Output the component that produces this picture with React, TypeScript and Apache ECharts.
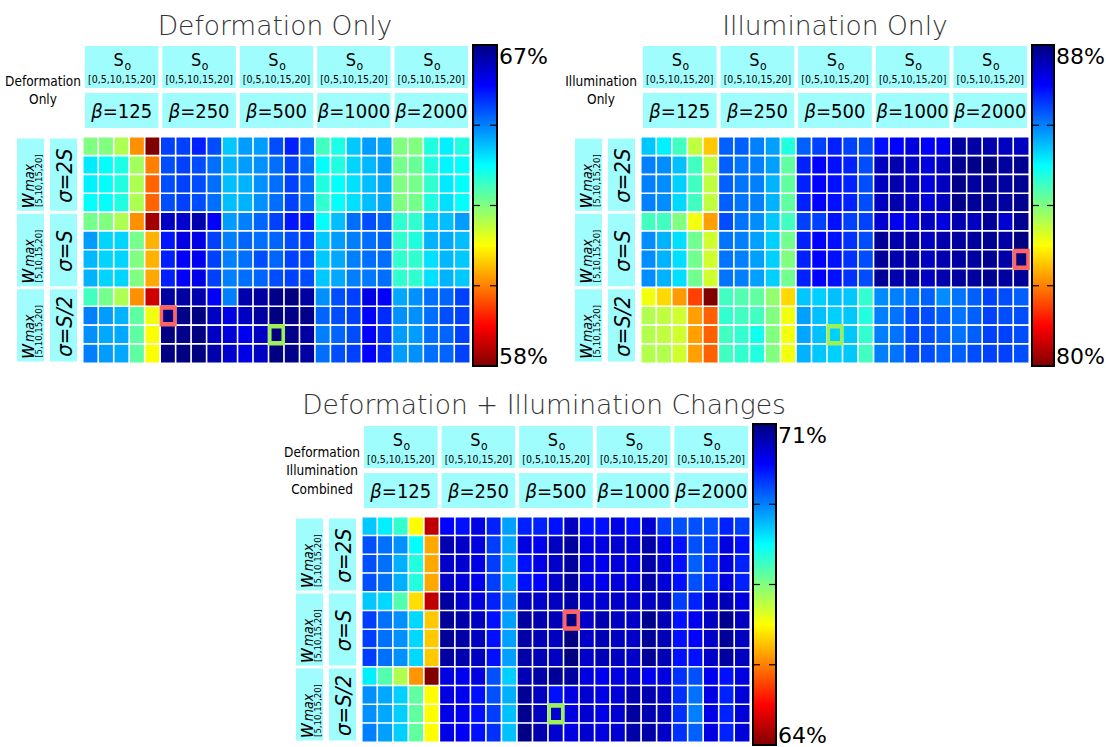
import React, { useEffect, useRef } from 'react';
import * as echarts from 'echarts';

const s0Values = [0, 5, 10, 15, 20];
const betaValues = [125, 250, 500, 1000, 2000];
const wmaxValues = [5, 10, 15, 20];
const sigmaLabels = ['σ=2S', 'σ=S', 'σ=S/2'];

const deformationOnly = [
  [62.5, 62.5, 62.1, 60.4, 58.0, 65.3, 65.3, 65.6, 65.2, 64.1, 64.5, 64.5, 65.2, 65.6, 65.0, 63.05, 63.4, 64.1, 64.5, 64.4, 62.5, 62.5, 63.35, 63.75, 63.35],
  [63.8, 63.6, 63.4, 62.2, 60.25, 65.2, 65.3, 65.2, 64.9, 64.3, 64.5, 64.6, 64.9, 65.3, 64.9, 63.6, 63.35, 64.0, 64.25, 64.5, 62.6, 62.7, 63.35, 63.7, 63.6],
  [63.75, 63.6, 63.35, 62.1, 60.0, 65.2, 65.3, 65.2, 64.9, 64.2, 64.3, 64.6, 64.9, 65.3, 64.9, 63.35, 63.6, 63.9, 64.2, 64.4, 62.5, 62.6, 63.2, 63.8, 63.6],
  [63.6, 63.6, 63.35, 62.1, 60.0, 65.2, 65.3, 65.2, 64.9, 64.2, 64.3, 64.6, 64.9, 65.3, 64.9, 63.2, 63.6, 63.9, 64.2, 64.4, 62.5, 62.6, 63.35, 63.9, 63.6],
  [62.6, 62.5, 62.1, 60.4, 58.3, 66.4, 66.3, 66.6, 65.9, 64.5, 64.75, 65.0, 65.3, 65.7, 65.6, 63.6, 64.2, 64.9, 65.2, 65.0, 63.2, 63.2, 64.1, 64.2, 64.5],
  [64.5, 64.0, 64.0, 62.6, 60.7, 65.7, 66.1, 66.1, 65.3, 64.75, 65.0, 64.9, 65.0, 65.2, 65.3, 64.1, 64.5, 64.75, 64.9, 65.0, 63.2, 63.35, 64.3, 64.4, 64.2],
  [64.25, 64.0, 64.0, 62.5, 60.7, 65.6, 65.9, 66.0, 65.3, 64.75, 64.9, 65.2, 65.0, 65.3, 65.2, 64.1, 64.4, 64.75, 64.9, 64.9, 63.2, 63.2, 63.9, 64.25, 64.1],
  [64.3, 64.0, 64.0, 62.5, 60.6, 65.6, 65.9, 66.1, 65.3, 64.75, 64.9, 65.0, 65.2, 65.3, 65.2, 64.1, 64.4, 64.75, 64.8, 64.9, 63.2, 63.2, 63.9, 64.3, 64.1],
  [63.05, 62.6, 62.1, 60.4, 58.7, 66.7, 66.7, 66.6, 65.9, 64.75, 66.6, 66.7, 66.9, 67.0, 66.7, 64.6, 65.2, 65.3, 66.1, 65.9, 64.4, 64.6, 64.9, 65.0, 65.3],
  [64.75, 64.5, 64.3, 62.8, 61.5, 67.0, 66.9, 67.0, 66.4, 66.1, 66.4, 66.7, 67.0, 66.9, 66.9, 65.0, 65.2, 65.3, 65.9, 65.5, 64.6, 64.6, 64.9, 65.2, 65.3],
  [64.6, 64.4, 64.4, 62.8, 61.4, 67.0, 66.9, 67.0, 66.4, 66.2, 66.0, 66.4, 67.0, 66.9, 66.7, 64.75, 65.0, 65.2, 65.9, 65.5, 64.5, 64.5, 64.9, 65.0, 65.3],
  [64.75, 64.5, 64.4, 62.8, 61.4, 67.0, 67.0, 67.0, 66.6, 66.3, 66.1, 66.4, 67.0, 66.9, 66.7, 64.9, 65.2, 65.3, 65.9, 65.5, 64.5, 64.6, 64.9, 65.0, 65.3],
];

const illuminationOnly = [
  [85.43, 85.1, 84.5, 83.5, 82.57, 86.25, 86.25, 86.0, 85.75, 84.75, 86.25, 86.5, 86.75, 86.5, 86.4, 86.88, 87.0, 87.25, 87.0, 87.12, 87.75, 87.7, 87.63, 87.5, 87.5],
  [86.0, 85.9, 85.5, 84.5, 83.5, 86.25, 86.1, 86.0, 85.75, 84.25, 86.75, 87.0, 86.88, 86.75, 86.4, 87.5, 87.63, 87.44, 87.25, 87.5, 87.87, 87.94, 88.0, 87.75, 87.87],
  [86.0, 85.9, 85.37, 84.5, 83.5, 86.25, 86.1, 86.0, 85.6, 84.25, 86.75, 87.0, 86.88, 86.75, 86.4, 87.5, 87.63, 87.5, 87.25, 87.5, 87.94, 87.75, 87.87, 87.75, 87.87],
  [86.0, 85.9, 85.3, 84.5, 83.5, 86.25, 86.1, 86.0, 85.6, 84.25, 86.75, 87.0, 86.88, 86.75, 86.4, 87.5, 87.63, 87.5, 87.25, 87.5, 87.94, 87.8, 87.87, 87.75, 87.87],
  [84.5, 84.5, 84.0, 83.1, 82.25, 86.4, 86.1, 85.9, 85.43, 84.5, 86.5, 86.5, 86.88, 86.5, 86.5, 87.37, 87.12, 87.25, 87.5, 87.25, 87.63, 87.5, 87.8, 87.37, 87.87],
  [85.9, 85.6, 85.25, 84.12, 83.37, 86.1, 86.0, 85.75, 85.37, 84.12, 86.75, 87.0, 86.88, 86.62, 86.4, 87.8, 87.63, 87.7, 87.5, 87.63, 87.75, 87.75, 87.87, 87.7, 88.0],
  [85.9, 85.6, 85.25, 84.12, 83.37, 86.1, 86.0, 85.75, 85.37, 84.0, 86.75, 87.0, 86.88, 86.62, 86.4, 87.8, 87.63, 87.7, 87.5, 87.63, 87.75, 87.75, 87.87, 87.7, 88.0],
  [85.9, 85.6, 85.25, 84.12, 83.37, 86.1, 86.0, 85.75, 85.37, 84.12, 86.75, 87.0, 86.88, 86.62, 86.4, 87.8, 87.63, 87.7, 87.5, 87.63, 87.75, 87.75, 87.87, 87.75, 87.8],
  [83.1, 82.7, 82.2, 81.5, 80.0, 84.5, 84.37, 84.25, 83.87, 82.7, 85.43, 85.37, 85.5, 85.43, 84.62, 85.9, 86.0, 86.1, 86.25, 85.9, 86.1, 86.25, 86.5, 86.4, 86.25],
  [83.6, 83.5, 83.37, 82.25, 81.75, 84.62, 84.5, 84.5, 84.0, 83.1, 85.75, 85.5, 85.37, 85.43, 84.75, 86.0, 86.1, 86.4, 86.4, 86.25, 86.1, 86.25, 86.5, 86.4, 86.4],
  [83.6, 83.5, 83.37, 82.25, 81.75, 84.5, 84.62, 84.87, 84.0, 83.1, 85.7, 85.5, 85.37, 85.43, 84.62, 86.0, 86.1, 86.4, 86.4, 86.25, 86.1, 86.25, 86.5, 86.5, 86.4],
  [83.6, 83.6, 83.37, 82.25, 81.75, 84.5, 84.62, 84.75, 84.0, 83.1, 85.6, 85.43, 85.37, 85.43, 84.5, 86.0, 86.1, 86.4, 86.4, 86.25, 86.25, 86.4, 86.5, 86.5, 86.4],
];

const combinedChanges = [
  [68.75, 68.48, 68.04, 66.62, 64.44, 70.12, 70.02, 70.3, 69.9, 69.03, 69.9, 69.9, 70.02, 70.56, 70.02, 70.02, 70.3, 70.02, 70.45, 69.7, 69.58, 69.58, 69.58, 69.9, 69.7],
  [69.58, 69.35, 69.14, 68.37, 66.03, 70.67, 70.5, 70.33, 69.7, 68.97, 70.33, 70.23, 70.56, 70.78, 70.33, 70.33, 70.45, 70.39, 70.72, 70.3, 70.02, 69.58, 69.7, 70.33, 70.02],
  [69.58, 69.35, 68.92, 68.15, 66.03, 70.5, 70.45, 70.3, 69.7, 68.92, 70.02, 70.3, 70.5, 70.78, 70.33, 70.23, 70.39, 70.3, 70.72, 70.39, 70.02, 69.47, 69.8, 70.33, 69.9],
  [69.58, 69.35, 68.92, 68.15, 66.03, 70.5, 70.39, 70.23, 69.7, 68.92, 70.02, 70.12, 70.5, 70.78, 70.33, 70.23, 70.39, 70.3, 70.72, 70.39, 70.02, 69.58, 69.8, 70.33, 69.9],
  [68.75, 68.64, 67.82, 66.4, 64.44, 70.78, 70.45, 70.33, 69.9, 69.25, 70.56, 70.5, 70.56, 70.72, 70.45, 70.45, 70.5, 70.45, 70.56, 70.56, 69.7, 69.9, 70.45, 70.62, 70.33],
  [69.7, 69.35, 69.14, 68.64, 66.25, 70.83, 70.72, 70.56, 70.02, 69.03, 70.78, 70.67, 70.62, 71.0, 70.5, 70.67, 70.56, 70.5, 70.9, 70.62, 70.02, 70.23, 70.56, 70.9, 70.56],
  [69.7, 69.35, 69.14, 68.64, 66.25, 70.83, 70.72, 70.56, 70.02, 69.03, 70.72, 70.62, 70.56, 71.0, 70.5, 70.62, 70.56, 70.5, 70.83, 70.62, 70.02, 70.12, 70.5, 70.83, 70.56],
  [69.7, 69.35, 69.14, 68.64, 66.25, 70.78, 70.67, 70.56, 70.02, 69.03, 70.72, 70.62, 70.56, 71.0, 70.5, 70.62, 70.56, 70.5, 70.83, 70.62, 70.02, 70.02, 70.5, 70.78, 70.56],
  [68.48, 67.82, 67.17, 65.9, 64.0, 70.33, 70.23, 70.33, 69.58, 68.7, 70.62, 70.72, 70.83, 70.78, 70.33, 70.23, 70.33, 70.45, 70.23, 70.33, 69.8, 69.58, 70.23, 70.02, 70.33],
  [69.14, 68.97, 68.7, 67.72, 66.62, 70.33, 70.23, 70.02, 69.58, 68.92, 70.83, 70.56, 70.02, 70.33, 70.45, 70.3, 70.39, 70.67, 70.67, 70.5, 69.8, 69.35, 70.3, 69.9, 70.39],
  [69.14, 68.97, 68.7, 67.72, 66.62, 70.3, 70.23, 70.02, 69.7, 68.8, 70.9, 70.56, 70.45, 70.33, 70.45, 70.3, 70.45, 70.78, 70.67, 70.56, 69.8, 69.25, 70.3, 69.9, 70.39],
  [69.25, 69.03, 68.7, 67.72, 66.62, 70.3, 70.17, 70.02, 69.8, 68.8, 70.95, 70.67, 70.45, 70.33, 70.45, 70.33, 70.45, 70.72, 70.72, 70.5, 69.8, 69.47, 70.33, 69.9, 70.39],
];

const deformationRange = [58, 67];
const illuminationRange = [80, 88];
const combinedRange = [64, 71];

// highlighted cells: [column, row]
const deformationRed = [[5, 9]];
const deformationGreen = [[12, 10]];
const illuminationRed = [[24, 6]];
const illuminationGreen = [[12, 10]];
const combinedRed = [[13, 5]];
const combinedGreen = [[12, 10]];

const titles = ['Deformation Only', 'Illumination Only', 'Deformation + Illumination Changes'];
const cornerLabels = ['Deformation\nOnly', 'Illumination\nOnly', 'Deformation\nIllumination\nCombined'];

const JET = ['#800000', '#ff0000', '#ff8000', '#ffff00', '#80ff80', '#00ffff', '#0080ff', '#0000ff', '#000080'];
const FONT = "'DejaVu Sans Condensed', 'DejaVu Sans', sans-serif";
const BOX = '#a0fdfd';

const layout = [
  { L: 83, T: 137, W: 387, H: 226, cbX: 473, cbY: 45, cbW: 24, cbH: 321, titleX: 275, titleY: 25 },
  { L: 641, T: 137, W: 388, H: 226, cbX: 1032, cbY: 45, cbW: 22, cbH: 321, titleX: 835, titleY: 25 },
  { L: 362, T: 517, W: 388, H: 225, cbX: 753, cbY: 424, cbW: 23, cbH: 321, titleX: 544, titleY: 404 },
];

function txt(x: number, y: number, text: string, size: number, opts: any = {}) {
  return {
    type: 'text',
    x,
    y,
    rotation: opts.rotation || 0,
    silent: true,
    z: 10,
    style: {
      text,
      fontSize: size,
      fontFamily: opts.fontFamily || FONT,
      fontStyle: opts.italic ? 'italic' : 'normal',
      fontWeight: opts.fontWeight || 'normal',
      fill: opts.fill || '#000',
      align: opts.align || 'center',
      verticalAlign: opts.verticalAlign || 'middle',
      textAlign: opts.align || 'center',
      textVerticalAlign: opts.verticalAlign || 'middle',
      lineHeight: opts.lineHeight,
      rich: opts.rich,
    },
  };
}

function rect(x: number, y: number, w: number, h: number, fill: string) {
  return { type: 'rect', silent: true, z: 1, shape: { x, y, width: w, height: h }, style: { fill } };
}

export default function App() {
  const ref = useRef<HTMLDivElement>(null);
  useEffect(() => {
    if (!ref.current) return;
    const chart = echarts.init(ref.current, undefined, { renderer: 'svg' });
    const matrices = [deformationOnly, illuminationOnly, combinedChanges];
    const ranges = [deformationRange, illuminationRange, combinedRange];
    const reds = [deformationRed, illuminationRed, combinedRed];
    const greens = [deformationGreen, illuminationGreen, combinedGreen];

    const colCats: string[] = [];
    betaValues.forEach((b) => s0Values.forEach((s) => colCats.push(`β=${b}, S0=${s}`)));
    const rowCats: string[] = [];
    sigmaLabels.forEach((sg) => wmaxValues.forEach((w) => rowCats.push(`${sg}, wmax=${w}`)));

    const grid: any[] = [];
    const xAxis: any[] = [];
    const yAxis: any[] = [];
    const series: any[] = [];
    const visualMap: any[] = [];
    const graphic: any[] = [];

    layout.forEach((p, i) => {
      grid.push({ left: p.L, top: p.T, width: p.W, height: p.H });
      xAxis.push({ type: 'category', gridIndex: i, data: colCats, show: false });
      yAxis.push({ type: 'category', gridIndex: i, data: rowCats, inverse: true, show: false });
      const data: any[] = [];
      matrices[i].forEach((row, r) => row.forEach((v, c) => data.push([c, r, v])));
      const hmIndex = series.length;
      series.push({
        type: 'heatmap',
        xAxisIndex: i,
        yAxisIndex: i,
        data,
        itemStyle: { borderColor: '#ffffff', borderWidth: 1.6 },
        emphasis: { disabled: true },
        silent: true,
      });
      visualMap.push({
        type: 'continuous',
        show: false,
        seriesIndex: hmIndex,
        min: ranges[i][0],
        max: ranges[i][1],
        inRange: { color: JET },
      });
      const cw = p.W / 25;
      const rh = p.H / 12;
      series.push({
        type: 'scatter',
        xAxisIndex: i,
        yAxisIndex: i,
        data: reds[i],
        symbol: 'rect',
        symbolSize: [cw - 2, rh - 2],
        itemStyle: { color: 'rgba(0,0,0,0)', borderColor: '#ff6464', borderWidth: 4, opacity: 1 },
        silent: true,
        z: 5,
      });
      series.push({
        type: 'scatter',
        xAxisIndex: i,
        yAxisIndex: i,
        data: greens[i],
        symbol: 'rect',
        symbolSize: [cw - 2, rh - 2],
        itemStyle: { color: 'rgba(0,0,0,0)', borderColor: '#9ef05a', borderWidth: 4, opacity: 1 },
        silent: true,
        z: 5,
      });

      // title
      graphic.push(txt(p.titleX, p.titleY, titles[i], 26.5, { fontFamily: "'DejaVu Sans', sans-serif", fill: '#333', fontWeight: 200 }));
      // corner label
      graphic.push(txt(p.L - 40, p.T - 47, cornerLabels[i], 13.5, { lineHeight: 18.5 }));

      // column headers
      const gw = p.W / 5;
      betaValues.forEach((b, g) => {
        const x0 = p.L + g * gw + 2;
        const x1 = p.L + (g + 1) * gw - 2;
        const cx = (x0 + x1) / 2;
        graphic.push(rect(x0, p.T - 91, x1 - x0, 42, BOX));
        graphic.push(rect(x0, p.T - 44, x1 - x0, 35, BOX));
        graphic.push(txt(cx - 3, p.T - 78, 'S', 18));
        graphic.push(txt(cx + 6, p.T - 71, 'o', 12));
        graphic.push(txt(cx, p.T - 58, `[${s0Values.join(',')}]`, 10.5));
        graphic.push(
          txt(cx, p.T - 26, `{b|β}{n|=${b}}`, 20, {
            rich: {
              b: { fontSize: 20, fontFamily: FONT, fontStyle: 'italic', fill: '#000' },
              n: { fontSize: 20, fontFamily: FONT, fill: '#000' },
            },
          })
        );
      });

      // row headers
      const gh = p.H / 3;
      sigmaLabels.forEach((sg, gi) => {
        const y0 = p.T + gi * gh + 1.5;
        const y1 = p.T + (gi + 1) * gh - 1.5;
        const gc = (y0 + y1) / 2;
        graphic.push(rect(p.L - 66, y0, 27, y1 - y0, BOX));
        graphic.push(rect(p.L - 33, y0, 27, y1 - y0, BOX));
        const rot = Math.PI / 2;
        graphic.push(txt(p.L - 56, gc + 26, 'w', 21, { rotation: rot, italic: true }));
        graphic.push(txt(p.L - 54, gc + 3, 'max', 14, { rotation: rot, italic: true }));
        graphic.push(txt(p.L - 45, gc + 6, `[${wmaxValues.join(',')}]`, 9.5, { rotation: rot }));
        graphic.push(txt(p.L - 19, gc + 1, sg, 22, { rotation: rot, italic: true }));
      });

      // colorbar
      graphic.push({
        type: 'rect',
        silent: true,
        z: 3,
        shape: { x: p.cbX, y: p.cbY, width: p.cbW, height: p.cbH },
        style: {
          fill: new echarts.graphic.LinearGradient(0, 0, 0, 1, JET.slice().reverse().map((c, k) => ({ offset: k / 8, color: c }))),
          stroke: '#000',
          lineWidth: 2,
        },
      });
      [0.25, 0.5, 0.75].forEach((f) => {
        const y = p.cbY + p.cbH * f;
        graphic.push({ type: 'line', silent: true, z: 4, shape: { x1: p.cbX, y1: y, x2: p.cbX + 7, y2: y }, style: { stroke: '#000', lineWidth: 1.2 } });
        graphic.push({ type: 'line', silent: true, z: 4, shape: { x1: p.cbX + p.cbW - 7, y1: y, x2: p.cbX + p.cbW, y2: y }, style: { stroke: '#000', lineWidth: 1.2 } });
      });
      graphic.push(txt(p.cbX + p.cbW + 2, p.cbY + 11, `${ranges[i][1]}%`, 22, { align: 'left', fontFamily: "'DejaVu Sans', sans-serif" }));
      graphic.push(txt(p.cbX + p.cbW + 2, p.cbY + p.cbH - 10, `${ranges[i][0]}%`, 22, { align: 'left', fontFamily: "'DejaVu Sans', sans-serif" }));
    });

    chart.setOption({
      animation: false,
      backgroundColor: '#ffffff',
      grid,
      xAxis,
      yAxis,
      visualMap,
      series,
      graphic: { elements: graphic },
    });
    return () => chart.dispose();
  }, []);
  return <div ref={ref} style={{ position: 'absolute', left: 0, top: 0, width: 1106, height: 747 }} />;
}
